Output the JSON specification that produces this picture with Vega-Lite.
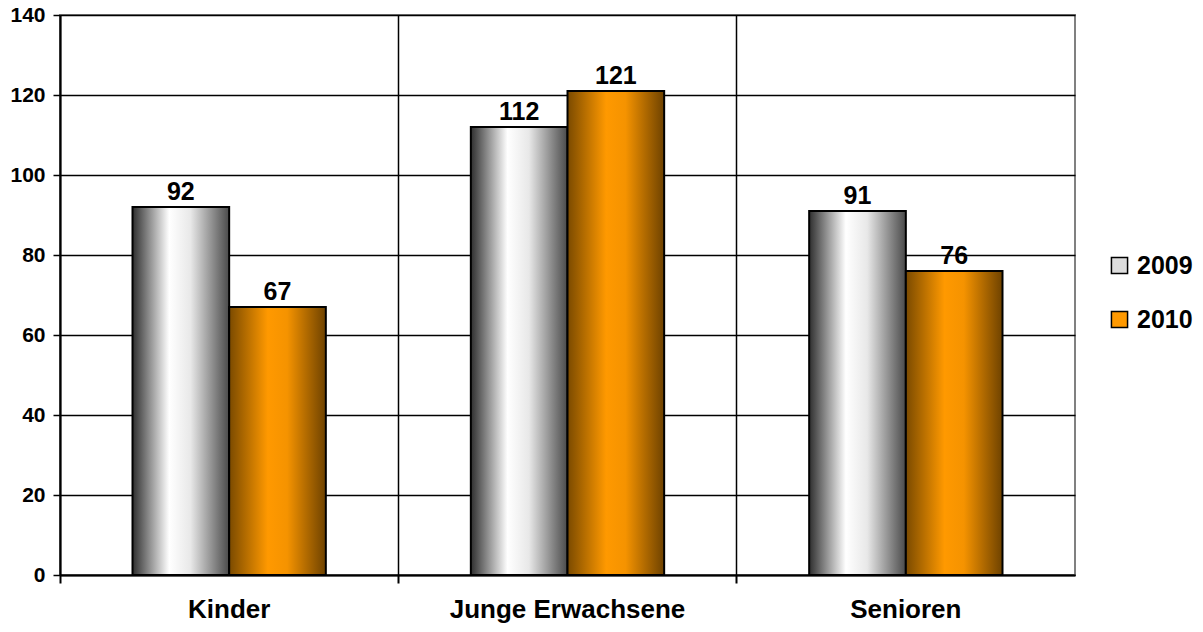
{
  "$schema": "https://vega.github.io/schema/vega-lite/v6.json",
  "width": 1015,
  "height": 560,
  "autosize": "none",
  "padding": {"left": 60, "top": 15, "right": 128, "bottom": 57},
  "background": "white",
  "config": {
    "font": "Liberation Sans",
    "view": {"stroke": "#808080", "strokeWidth": 2}
  },
  "data": {
    "values": [
      {"gruppe": "Kinder", "jahr": "2009", "wert": 92},
      {"gruppe": "Kinder", "jahr": "2010", "wert": 67},
      {"gruppe": "Junge Erwachsene", "jahr": "2009", "wert": 112},
      {"gruppe": "Junge Erwachsene", "jahr": "2010", "wert": 121},
      {"gruppe": "Senioren", "jahr": "2009", "wert": 91},
      {"gruppe": "Senioren", "jahr": "2010", "wert": 76}
    ]
  },
  "encoding": {
    "x": {
      "field": "gruppe",
      "type": "nominal",
      "sort": ["Kinder", "Junge Erwachsene", "Senioren"],
      "scale": {"paddingInner": 0, "paddingOuter": 0},
      "axis": {
        "title": null,
        "bandPosition": 0,
        "labelAngle": 0,
        "labelFontSize": 26,
        "labelFontWeight": "bold",
        "labelColor": "black",
        "labelPadding": 13,
        "labelLimit": 400,
        "grid": true,
        "gridColor": "black",
        "gridWidth": 1.5,
        "domainColor": "black",
        "domainWidth": 2,
        "tickColor": "black",
        "tickWidth": 2,
        "tickSize": 8
      }
    },
    "xOffset": {
      "field": "jahr",
      "type": "nominal",
      "scale": {"paddingInner": 0, "paddingOuter": 0.75}
    },
    "y": {
      "field": "wert",
      "type": "quantitative",
      "scale": {"domain": [0, 140]},
      "axis": {
        "title": null,
        "values": [0, 20, 40, 60, 80, 100, 120, 140],
        "labelFontSize": 21,
        "labelFontWeight": "bold",
        "labelColor": "black",
        "labelPadding": 8,
        "grid": true,
        "gridColor": "black",
        "gridWidth": 1.5,
        "domainColor": "black",
        "domainWidth": 2,
        "tickColor": "black",
        "tickWidth": 1.5,
        "tickSize": 7
      }
    }
  },
  "layer": [
    {
      "mark": {"type": "bar", "stroke": "black", "strokeWidth": 2},
      "encoding": {
        "fill": {
          "condition": {
            "test": "datum.jahr === '2009'",
            "value": {"gradient": "linear", "x1": 0, "y1": 0, "x2": 1, "y2": 0,
              "stops": [
                {"offset": 0, "color": "#2e2e2e"},
                {"offset": 0.38, "color": "#ffffff"},
                {"offset": 0.6, "color": "#e8e8e8"},
                {"offset": 1, "color": "#4a4a4a"}
              ]}
          },
          "value": {"gradient": "linear", "x1": 0, "y1": 0, "x2": 1, "y2": 0,
            "stops": [
              {"offset": 0, "color": "#7a4a00"},
              {"offset": 0.4, "color": "#ff9900"},
              {"offset": 0.6, "color": "#f59300"},
              {"offset": 1, "color": "#6e4200"}
            ]}
        }
      }
    },
    {
      "mark": {"type": "text", "baseline": "alphabetic", "dy": -7, "fontSize": 25, "fontWeight": "bold", "color": "black"},
      "encoding": {
        "text": {"field": "wert", "type": "quantitative"}
      }
    },
    {
      "mark": {"type": "point", "shape": "square", "filled": true, "opacity": 0},
      "encoding": {
        "color": {
          "field": "jahr",
          "type": "nominal",
          "scale": {"domain": ["2009", "2010"], "range": ["#dddddd", "#ff9900"]},
          "legend": {
            "title": null,
            "orient": "none",
            "legendX": 1047,
            "legendY": 238,
            "symbolType": "square",
            "symbolSize": 260,
            "symbolOpacity": 1,
            "symbolStrokeColor": "black",
            "symbolStrokeWidth": 1.5,
            "labelFontSize": 25,
            "labelFontWeight": "bold",
            "labelColor": "black",
            "rowPadding": 28,
            "labelOffset": 5,
            "encode": {
              "symbols": {
                "update": {
                  "opacity": {"value": 1},
                  "stroke": {"value": "black"},
                  "fill": [
                    {"test": "datum.value === '2009'",
                     "value": {"gradient": "linear", "x1": 0, "y1": 0, "x2": 1, "y2": 0,
                       "stops": [
                         {"offset": 0, "color": "#2e2e2e"},
                         {"offset": 0.45, "color": "#ffffff"},
                         {"offset": 1, "color": "#4a4a4a"}
                       ]}},
                    {"value": {"gradient": "linear", "x1": 0, "y1": 0, "x2": 1, "y2": 0,
                       "stops": [
                         {"offset": 0, "color": "#b06a00"},
                         {"offset": 0.45, "color": "#ff9900"},
                         {"offset": 1, "color": "#a06000"}
                       ]}}
                  ]
                }
              }
            }
          }
        }
      }
    }
  ]
}
